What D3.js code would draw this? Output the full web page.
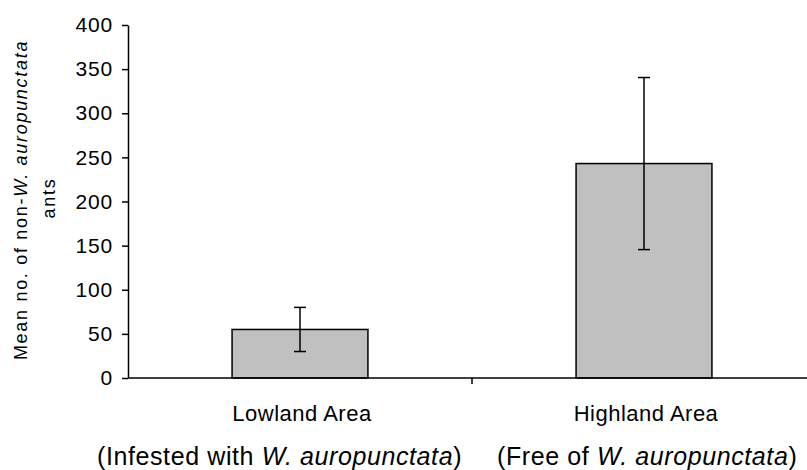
<!DOCTYPE html>
<html>
<head>
<meta charset="utf-8">
<script src="https://cdn.jsdelivr.net/npm/d3@7"></script>
<style>
  body { margin: 0; background: #fff; }
  text { font-family: "Liberation Sans", Arial, sans-serif; fill: #000; }
</style>
</head>
<body>
<script>
// data
var categories = ["Lowland Area", "Highland Area"];
var subtitles = ["Infested with ", "Free of "];
var means = [55, 243];
var errors = [25, 97.5];
var yTicks = [0, 50, 100, 150, 200, 250, 300, 350, 400];

var width = 807,
    height = 470;

var svg = d3.select("body").append("svg")
  .attr("width", width)
  .attr("height", height);

var x = d3.scaleBand()
  .domain(categories)
  .range([128, 816])
  .padding(0);

var y = d3.scaleLinear()
  .domain([0, 400])
  .range([378, 25]);

var barFrac = 0.395;
var bw = x.bandwidth() * barFrac;

// y axis
var yAxis = svg.append("g")
  .attr("transform", "translate(128,0)")
  .call(d3.axisLeft(y).tickValues(yTicks).tickSize(6).tickPadding(9).tickSizeOuter(0));
yAxis.select(".domain").attr("stroke", "#000").attr("stroke-width", 1.5);
yAxis.selectAll(".tick line").attr("stroke", "#000").attr("stroke-width", 1.5);
yAxis.selectAll(".tick text")
  .attr("font-size", 21)
  .attr("letter-spacing", 0.8)
  .attr("font-family", "Liberation Sans, Arial, sans-serif")
  .attr("fill", "#000");

// bars
svg.append("g")
  .selectAll("rect")
  .data(categories)
  .enter()
.append("rect")
  .attr("x", function(d) { return x(d) + (x.bandwidth() - bw) / 2; })
  .attr("y", function(d, i) { return y(means[i]); })
  .attr("width", bw)
  .attr("height", function(d, i) { return y(0) - y(means[i]); })
  .attr("fill", "#c0c0c0")
  .attr("stroke", "#000")
  .attr("stroke-width", 1.5);

// x axis (drawn after bars so the baseline sits on top)
var xAxis = svg.append("g")
  .attr("transform", "translate(0," + y(0) + ")");
xAxis.append("line")
  .attr("x1", x.range()[0])
  .attr("x2", x.range()[1])
  .attr("stroke", "#000")
  .attr("stroke-width", 1.5);
xAxis.selectAll(".sep")
  .data(categories.slice(1))
  .enter()
.append("line")
  .attr("class", "sep")
  .attr("x1", function(d) { return x(d); })
  .attr("x2", function(d) { return x(d); })
  .attr("y1", 0)
  .attr("y2", 6)
  .attr("stroke", "#000")
  .attr("stroke-width", 1.5);

// error bars
var err = svg.append("g")
  .selectAll("g")
  .data(categories)
  .enter()
.append("g")
  .attr("stroke", "#000")
  .attr("stroke-width", 1.5);

function cx(d) { return x(d) + x.bandwidth() / 2; }

err.append("line")
  .attr("x1", cx).attr("x2", cx)
  .attr("y1", function(d, i) { return y(means[i] + errors[i]); })
  .attr("y2", function(d, i) { return y(means[i] - errors[i]); });
err.append("line")
  .attr("x1", function(d) { return cx(d) - 6; })
  .attr("x2", function(d) { return cx(d) + 6; })
  .attr("y1", function(d, i) { return y(means[i] + errors[i]); })
  .attr("y2", function(d, i) { return y(means[i] + errors[i]); });
err.append("line")
  .attr("x1", function(d) { return cx(d) - 6; })
  .attr("x2", function(d) { return cx(d) + 6; })
  .attr("y1", function(d, i) { return y(means[i] - errors[i]); })
  .attr("y2", function(d, i) { return y(means[i] - errors[i]); });

// category labels
svg.append("g")
  .selectAll("text")
  .data(categories)
  .enter()
.append("text")
  .attr("x", function(d) { return cx(d) + 2; })
  .attr("y", 421)
  .attr("text-anchor", "middle")
  .attr("font-size", 22)
  .attr("letter-spacing", 0.5)
  .text(function(d) { return d; });

// subtitles under categories
var subX = [97, 497];
var sub = svg.append("g")
  .selectAll("text")
  .data(subtitles)
  .enter()
.append("text")
  .attr("x", function(d, i) { return subX[i]; })
  .attr("y", 465)
  .attr("font-size", 25)
  .attr("letter-spacing", 0.6);
sub.append("tspan").text(function(d) { return "(" + d; });
sub.append("tspan").attr("font-style", "italic").text("W. auropunctata");
sub.append("tspan").text(")");

// y title
var yt = svg.append("text")
  .attr("transform", "translate(27,200) rotate(-90)")
  .attr("text-anchor", "middle")
  .attr("font-size", 18)
  .attr("letter-spacing", 1.7);
yt.append("tspan").text("Mean no. of non-");
yt.append("tspan").attr("font-style", "italic").text("W. auropunctata");

svg.append("text")
  .attr("transform", "translate(55,198) rotate(-90)")
  .attr("text-anchor", "middle")
  .attr("font-size", 18)
  .attr("letter-spacing", 1.7)
  .text("ants");
</script>
</body>
</html>
